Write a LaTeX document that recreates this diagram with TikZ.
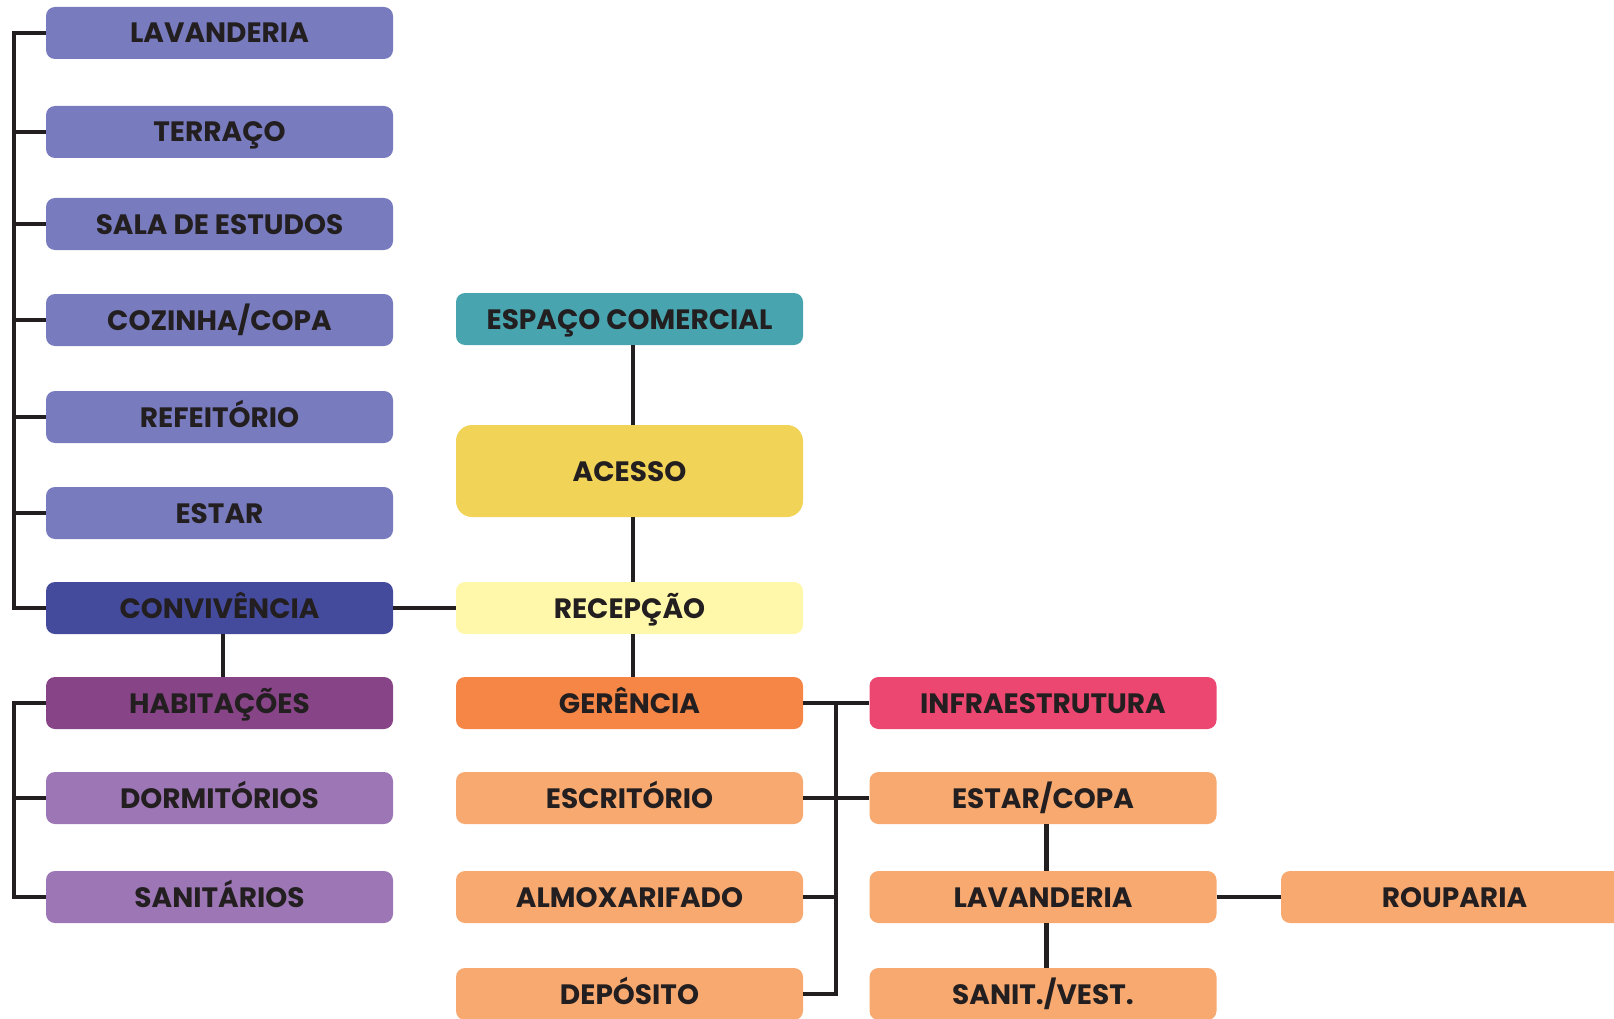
\documentclass[tikz,border=0pt]{standalone}
\usepackage{fontspec}
\setmainfont{Poppins}
\usetikzlibrary{positioning}
\definecolor{ink}{HTML}{231F20}
\definecolor{lilac}{HTML}{787BBE}
\definecolor{convblue}{HTML}{454B9C}
\definecolor{habpurple}{HTML}{874487}
\definecolor{softpurple}{HTML}{9D77B5}
\definecolor{teal}{HTML}{48A5AF}
\definecolor{acyellow}{HTML}{F1D358}
\definecolor{recyellow}{HTML}{FFF8AA}
\definecolor{gerorange}{HTML}{F58646}
\definecolor{infrared}{HTML}{EB4770}
\definecolor{softorange}{HTML}{F8A970}
\begin{document}
\begin{tikzpicture}[x=1pt, y=-1pt, font=\fontsize{28}{30}\selectfont\bfseries,
  box/.style={rounded corners=9pt, minimum width=347pt, minimum height=52pt, inner sep=0pt, text=ink, text height=20pt, text depth=0pt},
  link/.style={draw=ink, line width=4.8pt}]
% x, y in pixels of the 1614 x 1019 sheet, y downwards
\useasboundingbox (0,0) rectangle (1614,1019);
% left column: convivencia group
\foreach \n/\y/\l in {lav/33/LAVANDERIA, ter/132/TERRAÇO, sala/224/SALA DE ESTUDOS, coz/320/{COZINHA/COPA}, ref/417/REFEITÓRIO, est/513/ESTAR}
  { \node[box, fill=lilac] (\n) at (219.5,\y) {\l}; }
\node[box, fill=convblue] (conv) at (219.5,608) {CONVIVÊNCIA};
\node[box, fill=habpurple] (hab) at (219.5,703) {HABITAÇÕES};
\node[box, fill=softpurple] (dorm) at (219.5,798) {DORMITÓRIOS};
\node[box, fill=softpurple] (san) at (219.5,897) {SANITÁRIOS};
% middle column
\node[box, fill=teal] (com) at (629.5,319) {ESPAÇO COMERCIAL};
\node[box, fill=acyellow, minimum height=92pt, rounded corners=16pt] (ace) at (629.5,471) {ACESSO};
\node[box, fill=recyellow] (rec) at (629.5,608) {RECEPÇÃO};
\node[box, fill=gerorange] (ger) at (629.5,703) {GERÊNCIA};
\foreach \n/\y/\l in {esc/798/ESCRITÓRIO, alm/897/ALMOXARIFADO, dep/994/DEPÓSITO}
  { \node[box, fill=softorange] (\n) at (629.5,\y) {\l}; }
% right columns
\node[box, fill=infrared] (infra) at (1043,703) {INFRAESTRUTURA};
\foreach \n/\y/\l in {ecopa/798/{ESTAR/COPA}, lavb/897/LAVANDERIA, vest/994/{SANIT./VEST.}}
  { \node[box, fill=softorange] (\n) at (1043,\y) {\l}; }
\node[box, fill=softorange] (roup) at (1454.5,897) {ROUPARIA};
% brackets
\coordinate (lb) at (14,33);
\coordinate (hb) at (14,703);
\coordinate (rb) at (836,703);
\draw[link] (lav.west) -- (lb) |- (conv.west);
\foreach \n in {ter, sala, coz, ref, est} { \draw[link] (\n.west) -- (\n.west -| lb); }
\draw[link] (hab.west) -- (hb) |- (san.west);
\draw[link] (dorm.west) -- (dorm.west -| hb);
\draw[link] (rb) |- (dep.east);
\draw[link] (alm.east) -- (alm.east -| rb);
% links
\draw[link] ([xshift=3.5pt]com.south) -- ([xshift=3.5pt]ace.north);
\draw[link] ([xshift=3.5pt]ace.south) -- ([xshift=3.5pt]rec.north);
\draw[link] ([xshift=3.5pt]rec.south) -- ([xshift=3.5pt]ger.north);
\draw[link] ([xshift=3.5pt]conv.south) -- ([xshift=3.5pt]hab.north);
\draw[link] (conv.east) -- (rec.west);
\draw[link] (ger.east) -- (infra.west);
\draw[link] (esc.east) -- (ecopa.west);
\draw[link] ([xshift=3.5pt]ecopa.south) -- ([xshift=3.5pt]lavb.north);
\draw[link] ([xshift=3.5pt]lavb.south) -- ([xshift=3.5pt]vest.north);
\draw[link] (lavb.east) -- (roup.west);
\end{tikzpicture}
\end{document}
